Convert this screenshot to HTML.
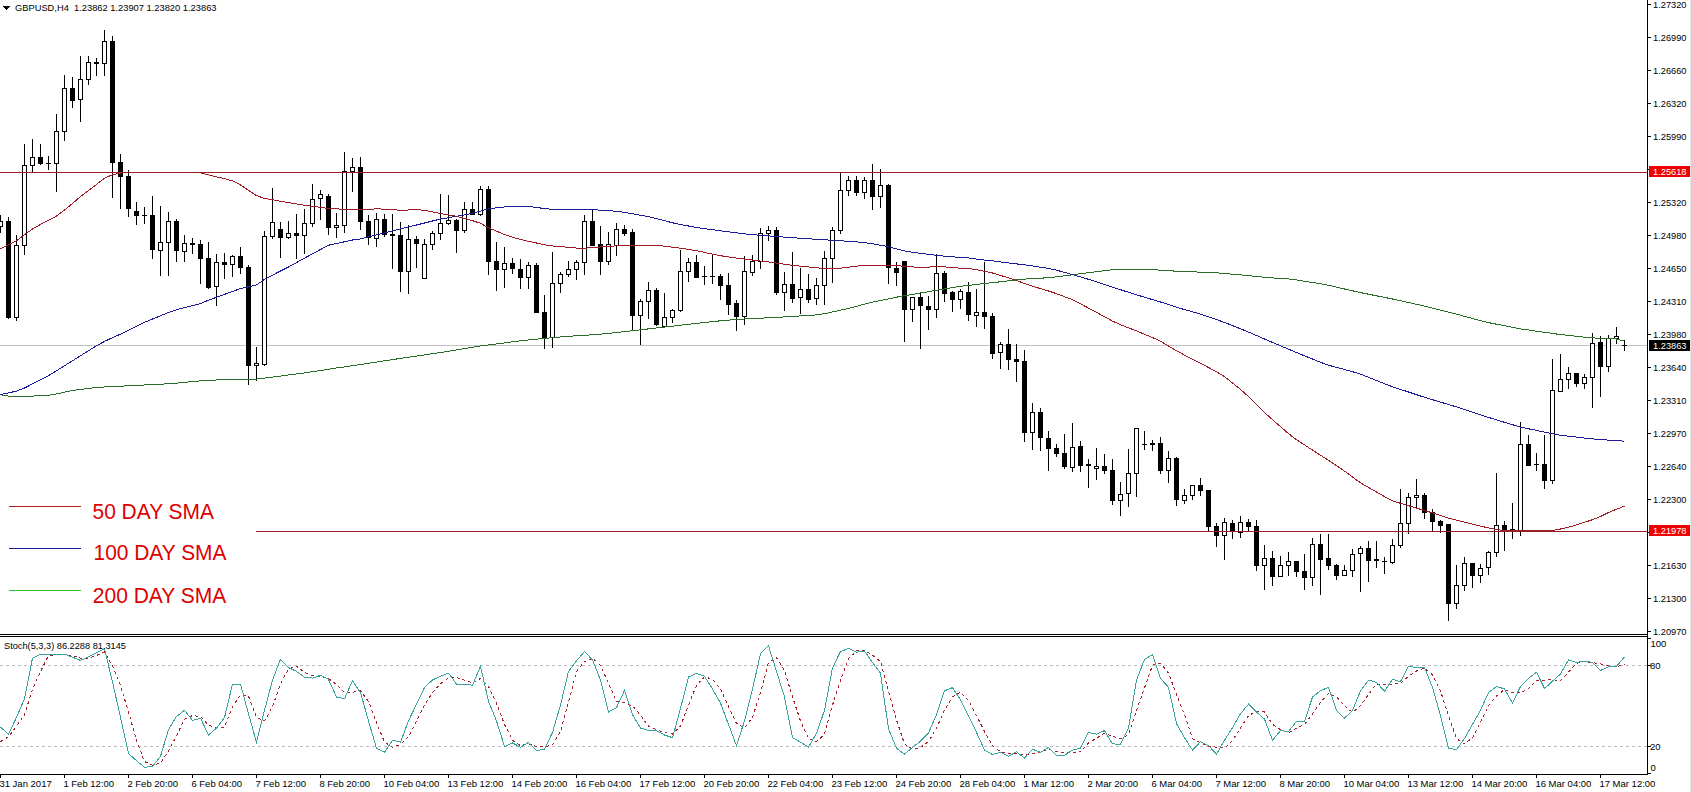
<!DOCTYPE html>
<html><head><meta charset="utf-8"><title>GBPUSD,H4</title>
<style>html,body{margin:0;padding:0;background:#fff;}body{width:1691px;height:792px;overflow:hidden;}svg{display:block;}text{shape-rendering:auto;}</style>
</head><body><svg width="1691" height="792" viewBox="0 0 1691 792" shape-rendering="crispEdges"><rect x="0" y="345" width="1647" height="1" fill="#c0c0c0"/><g fill="#000"><rect x="0" y="215" width="1" height="18"/><rect x="-2" y="221" width="5" height="6"/><rect x="-1" y="222" width="3" height="4" fill="#fff"/><rect x="8" y="217" width="1" height="102"/><rect x="6" y="221" width="5" height="97"/><rect x="16" y="235" width="1" height="86"/><rect x="14" y="245" width="5" height="73"/><rect x="15" y="246" width="3" height="71" fill="#fff"/><rect x="24" y="144" width="1" height="111"/><rect x="22" y="165" width="5" height="81"/><rect x="23" y="166" width="3" height="79" fill="#fff"/><rect x="32" y="139" width="1" height="33"/><rect x="30" y="157" width="5" height="9"/><rect x="31" y="158" width="3" height="7" fill="#fff"/><rect x="40" y="144" width="1" height="21"/><rect x="38" y="157" width="5" height="7"/><rect x="48" y="156" width="1" height="14"/><rect x="46" y="163" width="5" height="1"/><rect x="56" y="114" width="1" height="78"/><rect x="54" y="131" width="5" height="33"/><rect x="55" y="132" width="3" height="31" fill="#fff"/><rect x="64" y="75" width="1" height="66"/><rect x="62" y="88" width="5" height="44"/><rect x="63" y="89" width="3" height="42" fill="#fff"/><rect x="72" y="77" width="1" height="31"/><rect x="70" y="88" width="5" height="13"/><rect x="80" y="56" width="1" height="66"/><rect x="78" y="79" width="5" height="21"/><rect x="79" y="80" width="3" height="19" fill="#fff"/><rect x="88" y="56" width="1" height="29"/><rect x="86" y="62" width="5" height="18"/><rect x="87" y="63" width="3" height="16" fill="#fff"/><rect x="96" y="58" width="1" height="18"/><rect x="94" y="62" width="5" height="2"/><rect x="104" y="30" width="1" height="46"/><rect x="102" y="41" width="5" height="23"/><rect x="103" y="42" width="3" height="21" fill="#fff"/><rect x="112" y="36" width="1" height="162"/><rect x="110" y="41" width="5" height="122"/><rect x="120" y="154" width="1" height="55"/><rect x="118" y="162" width="5" height="15"/><rect x="128" y="170" width="1" height="47"/><rect x="126" y="176" width="5" height="33"/><rect x="136" y="202" width="1" height="23"/><rect x="134" y="211" width="5" height="5"/><rect x="144" y="207" width="1" height="17"/><rect x="142" y="215" width="5" height="1"/><rect x="152" y="196" width="1" height="63"/><rect x="150" y="215" width="5" height="35"/><rect x="160" y="206" width="1" height="70"/><rect x="158" y="242" width="5" height="9"/><rect x="159" y="243" width="3" height="7" fill="#fff"/><rect x="168" y="212" width="1" height="64"/><rect x="166" y="221" width="5" height="22"/><rect x="167" y="222" width="3" height="20" fill="#fff"/><rect x="176" y="219" width="1" height="43"/><rect x="174" y="221" width="5" height="30"/><rect x="184" y="235" width="1" height="27"/><rect x="182" y="243" width="5" height="9"/><rect x="183" y="244" width="3" height="7" fill="#fff"/><rect x="192" y="238" width="1" height="16"/><rect x="190" y="243" width="5" height="2"/><rect x="200" y="240" width="1" height="44"/><rect x="198" y="244" width="5" height="15"/><rect x="208" y="242" width="1" height="47"/><rect x="206" y="258" width="5" height="30"/><rect x="216" y="254" width="1" height="52"/><rect x="214" y="262" width="5" height="25"/><rect x="215" y="263" width="3" height="23" fill="#fff"/><rect x="224" y="253" width="1" height="26"/><rect x="222" y="262" width="5" height="3"/><rect x="232" y="255" width="1" height="22"/><rect x="230" y="256" width="5" height="9"/><rect x="231" y="257" width="3" height="7" fill="#fff"/><rect x="240" y="247" width="1" height="27"/><rect x="238" y="256" width="5" height="12"/><rect x="248" y="265" width="1" height="120"/><rect x="246" y="267" width="5" height="99"/><rect x="256" y="347" width="1" height="34"/><rect x="254" y="363" width="5" height="3"/><rect x="255" y="364" width="3" height="1" fill="#fff"/><rect x="264" y="231" width="1" height="135"/><rect x="262" y="236" width="5" height="129"/><rect x="263" y="237" width="3" height="127" fill="#fff"/><rect x="272" y="188" width="1" height="51"/><rect x="270" y="222" width="5" height="15"/><rect x="271" y="223" width="3" height="13" fill="#fff"/><rect x="280" y="222" width="1" height="36"/><rect x="278" y="229" width="5" height="9"/><rect x="288" y="221" width="1" height="18"/><rect x="286" y="233" width="5" height="5"/><rect x="287" y="234" width="3" height="3" fill="#fff"/><rect x="296" y="214" width="1" height="45"/><rect x="294" y="233" width="5" height="3"/><rect x="304" y="209" width="1" height="45"/><rect x="302" y="223" width="5" height="13"/><rect x="303" y="224" width="3" height="11" fill="#fff"/><rect x="312" y="184" width="1" height="43"/><rect x="310" y="199" width="5" height="25"/><rect x="311" y="200" width="3" height="23" fill="#fff"/><rect x="320" y="190" width="1" height="30"/><rect x="318" y="194" width="5" height="5"/><rect x="319" y="195" width="3" height="3" fill="#fff"/><rect x="328" y="194" width="1" height="41"/><rect x="326" y="196" width="5" height="32"/><rect x="336" y="213" width="1" height="25"/><rect x="334" y="225" width="5" height="3"/><rect x="335" y="226" width="3" height="1" fill="#fff"/><rect x="344" y="152" width="1" height="81"/><rect x="342" y="171" width="5" height="55"/><rect x="343" y="172" width="3" height="53" fill="#fff"/><rect x="352" y="158" width="1" height="34"/><rect x="350" y="167" width="5" height="5"/><rect x="351" y="168" width="3" height="3" fill="#fff"/><rect x="360" y="157" width="1" height="73"/><rect x="358" y="167" width="5" height="55"/><rect x="368" y="215" width="1" height="30"/><rect x="366" y="221" width="5" height="17"/><rect x="376" y="213" width="1" height="34"/><rect x="374" y="219" width="5" height="20"/><rect x="375" y="220" width="3" height="18" fill="#fff"/><rect x="384" y="214" width="1" height="23"/><rect x="382" y="219" width="5" height="16"/><rect x="392" y="214" width="1" height="55"/><rect x="390" y="234" width="5" height="2"/><rect x="400" y="222" width="1" height="70"/><rect x="398" y="235" width="5" height="37"/><rect x="408" y="225" width="1" height="69"/><rect x="406" y="239" width="5" height="33"/><rect x="407" y="240" width="3" height="31" fill="#fff"/><rect x="416" y="236" width="1" height="32"/><rect x="414" y="239" width="5" height="5"/><rect x="424" y="239" width="1" height="40"/><rect x="422" y="244" width="5" height="35"/><rect x="423" y="245" width="3" height="33" fill="#fff"/><rect x="432" y="231" width="1" height="19"/><rect x="430" y="233" width="5" height="12"/><rect x="431" y="234" width="3" height="10" fill="#fff"/><rect x="440" y="194" width="1" height="46"/><rect x="438" y="223" width="5" height="11"/><rect x="439" y="224" width="3" height="9" fill="#fff"/><rect x="448" y="195" width="1" height="30"/><rect x="446" y="220" width="5" height="4"/><rect x="447" y="221" width="3" height="2" fill="#fff"/><rect x="456" y="219" width="1" height="34"/><rect x="454" y="220" width="5" height="11"/><rect x="464" y="202" width="1" height="31"/><rect x="462" y="209" width="5" height="22"/><rect x="463" y="210" width="3" height="20" fill="#fff"/><rect x="472" y="202" width="1" height="13"/><rect x="470" y="209" width="5" height="6"/><rect x="480" y="186" width="1" height="30"/><rect x="478" y="189" width="5" height="26"/><rect x="479" y="190" width="3" height="24" fill="#fff"/><rect x="488" y="186" width="1" height="89"/><rect x="486" y="189" width="5" height="73"/><rect x="496" y="242" width="1" height="49"/><rect x="494" y="261" width="5" height="9"/><rect x="504" y="247" width="1" height="41"/><rect x="502" y="263" width="5" height="7"/><rect x="503" y="264" width="3" height="5" fill="#fff"/><rect x="512" y="258" width="1" height="16"/><rect x="510" y="263" width="5" height="6"/><rect x="520" y="259" width="1" height="30"/><rect x="518" y="269" width="5" height="9"/><rect x="528" y="262" width="1" height="27"/><rect x="526" y="265" width="5" height="13"/><rect x="527" y="266" width="3" height="11" fill="#fff"/><rect x="536" y="263" width="1" height="50"/><rect x="534" y="265" width="5" height="48"/><rect x="544" y="295" width="1" height="54"/><rect x="542" y="312" width="5" height="26"/><rect x="552" y="252" width="1" height="96"/><rect x="550" y="283" width="5" height="55"/><rect x="551" y="284" width="3" height="53" fill="#fff"/><rect x="560" y="272" width="1" height="21"/><rect x="558" y="274" width="5" height="10"/><rect x="559" y="275" width="3" height="8" fill="#fff"/><rect x="568" y="261" width="1" height="16"/><rect x="566" y="269" width="5" height="6"/><rect x="567" y="270" width="3" height="4" fill="#fff"/><rect x="576" y="260" width="1" height="20"/><rect x="574" y="262" width="5" height="8"/><rect x="575" y="263" width="3" height="6" fill="#fff"/><rect x="584" y="215" width="1" height="60"/><rect x="582" y="221" width="5" height="42"/><rect x="583" y="222" width="3" height="40" fill="#fff"/><rect x="592" y="210" width="1" height="36"/><rect x="590" y="221" width="5" height="25"/><rect x="600" y="226" width="1" height="49"/><rect x="598" y="244" width="5" height="18"/><rect x="608" y="232" width="1" height="33"/><rect x="606" y="244" width="5" height="18"/><rect x="607" y="245" width="3" height="16" fill="#fff"/><rect x="616" y="223" width="1" height="33"/><rect x="614" y="229" width="5" height="17"/><rect x="615" y="230" width="3" height="15" fill="#fff"/><rect x="624" y="225" width="1" height="11"/><rect x="622" y="229" width="5" height="5"/><rect x="632" y="229" width="1" height="102"/><rect x="630" y="232" width="5" height="84"/><rect x="640" y="299" width="1" height="46"/><rect x="638" y="301" width="5" height="15"/><rect x="639" y="302" width="3" height="13" fill="#fff"/><rect x="648" y="282" width="1" height="37"/><rect x="646" y="290" width="5" height="12"/><rect x="647" y="291" width="3" height="10" fill="#fff"/><rect x="656" y="288" width="1" height="38"/><rect x="654" y="290" width="5" height="35"/><rect x="664" y="293" width="1" height="34"/><rect x="662" y="317" width="5" height="10"/><rect x="663" y="318" width="3" height="8" fill="#fff"/><rect x="672" y="309" width="1" height="14"/><rect x="670" y="310" width="5" height="8"/><rect x="671" y="311" width="3" height="6" fill="#fff"/><rect x="680" y="250" width="1" height="62"/><rect x="678" y="271" width="5" height="40"/><rect x="679" y="272" width="3" height="38" fill="#fff"/><rect x="688" y="258" width="1" height="24"/><rect x="686" y="262" width="5" height="10"/><rect x="687" y="263" width="3" height="8" fill="#fff"/><rect x="696" y="255" width="1" height="23"/><rect x="694" y="262" width="5" height="16"/><rect x="704" y="266" width="1" height="19"/><rect x="702" y="276" width="5" height="1"/><rect x="712" y="254" width="1" height="30"/><rect x="710" y="276" width="5" height="1"/><rect x="720" y="274" width="1" height="26"/><rect x="718" y="276" width="5" height="10"/><rect x="728" y="273" width="1" height="42"/><rect x="726" y="285" width="5" height="20"/><rect x="736" y="300" width="1" height="31"/><rect x="734" y="303" width="5" height="14"/><rect x="744" y="256" width="1" height="69"/><rect x="742" y="271" width="5" height="46"/><rect x="743" y="272" width="3" height="44" fill="#fff"/><rect x="752" y="255" width="1" height="21"/><rect x="750" y="261" width="5" height="12"/><rect x="751" y="262" width="3" height="10" fill="#fff"/><rect x="760" y="228" width="1" height="41"/><rect x="758" y="233" width="5" height="29"/><rect x="759" y="234" width="3" height="27" fill="#fff"/><rect x="768" y="226" width="1" height="15"/><rect x="766" y="230" width="5" height="4"/><rect x="767" y="231" width="3" height="2" fill="#fff"/><rect x="776" y="227" width="1" height="68"/><rect x="774" y="230" width="5" height="63"/><rect x="784" y="272" width="1" height="39"/><rect x="782" y="284" width="5" height="9"/><rect x="783" y="285" width="3" height="7" fill="#fff"/><rect x="792" y="252" width="1" height="51"/><rect x="790" y="284" width="5" height="15"/><rect x="800" y="268" width="1" height="46"/><rect x="798" y="289" width="5" height="9"/><rect x="799" y="290" width="3" height="7" fill="#fff"/><rect x="808" y="274" width="1" height="29"/><rect x="806" y="289" width="5" height="11"/><rect x="816" y="278" width="1" height="27"/><rect x="814" y="285" width="5" height="14"/><rect x="815" y="286" width="3" height="12" fill="#fff"/><rect x="824" y="251" width="1" height="54"/><rect x="822" y="258" width="5" height="28"/><rect x="823" y="259" width="3" height="26" fill="#fff"/><rect x="832" y="227" width="1" height="56"/><rect x="830" y="230" width="5" height="29"/><rect x="831" y="231" width="3" height="27" fill="#fff"/><rect x="840" y="173" width="1" height="61"/><rect x="838" y="190" width="5" height="41"/><rect x="839" y="191" width="3" height="39" fill="#fff"/><rect x="848" y="176" width="1" height="20"/><rect x="846" y="180" width="5" height="11"/><rect x="847" y="181" width="3" height="9" fill="#fff"/><rect x="856" y="176" width="1" height="20"/><rect x="854" y="180" width="5" height="13"/><rect x="864" y="177" width="1" height="22"/><rect x="862" y="180" width="5" height="13"/><rect x="863" y="181" width="3" height="11" fill="#fff"/><rect x="872" y="164" width="1" height="46"/><rect x="870" y="180" width="5" height="17"/><rect x="880" y="169" width="1" height="39"/><rect x="878" y="185" width="5" height="12"/><rect x="879" y="186" width="3" height="10" fill="#fff"/><rect x="888" y="184" width="1" height="100"/><rect x="886" y="185" width="5" height="83"/><rect x="896" y="262" width="1" height="24"/><rect x="894" y="268" width="5" height="5"/><rect x="904" y="261" width="1" height="81"/><rect x="902" y="261" width="5" height="49"/><rect x="912" y="297" width="1" height="25"/><rect x="910" y="297" width="5" height="13"/><rect x="911" y="298" width="3" height="11" fill="#fff"/><rect x="920" y="293" width="1" height="56"/><rect x="918" y="297" width="5" height="9"/><rect x="928" y="296" width="1" height="34"/><rect x="926" y="306" width="5" height="4"/><rect x="936" y="254" width="1" height="64"/><rect x="934" y="273" width="5" height="37"/><rect x="935" y="274" width="3" height="35" fill="#fff"/><rect x="944" y="271" width="1" height="31"/><rect x="942" y="273" width="5" height="21"/><rect x="952" y="291" width="1" height="21"/><rect x="950" y="292" width="5" height="8"/><rect x="960" y="289" width="1" height="20"/><rect x="958" y="291" width="5" height="9"/><rect x="959" y="292" width="3" height="7" fill="#fff"/><rect x="968" y="282" width="1" height="39"/><rect x="966" y="292" width="5" height="23"/><rect x="976" y="289" width="1" height="38"/><rect x="974" y="312" width="5" height="4"/><rect x="975" y="313" width="3" height="2" fill="#fff"/><rect x="984" y="262" width="1" height="67"/><rect x="982" y="312" width="5" height="5"/><rect x="992" y="313" width="1" height="46"/><rect x="990" y="316" width="5" height="38"/><rect x="1000" y="342" width="1" height="27"/><rect x="998" y="344" width="5" height="9"/><rect x="999" y="345" width="3" height="7" fill="#fff"/><rect x="1008" y="329" width="1" height="41"/><rect x="1006" y="344" width="5" height="16"/><rect x="1016" y="344" width="1" height="38"/><rect x="1014" y="359" width="5" height="3"/><rect x="1024" y="350" width="1" height="92"/><rect x="1022" y="361" width="5" height="72"/><rect x="1032" y="403" width="1" height="47"/><rect x="1030" y="412" width="5" height="21"/><rect x="1031" y="413" width="3" height="19" fill="#fff"/><rect x="1040" y="408" width="1" height="43"/><rect x="1038" y="412" width="5" height="26"/><rect x="1048" y="431" width="1" height="40"/><rect x="1046" y="438" width="5" height="11"/><rect x="1056" y="444" width="1" height="13"/><rect x="1054" y="448" width="5" height="6"/><rect x="1064" y="434" width="1" height="35"/><rect x="1062" y="453" width="5" height="14"/><rect x="1072" y="423" width="1" height="49"/><rect x="1070" y="447" width="5" height="21"/><rect x="1071" y="448" width="3" height="19" fill="#fff"/><rect x="1080" y="441" width="1" height="31"/><rect x="1078" y="446" width="5" height="20"/><rect x="1088" y="459" width="1" height="29"/><rect x="1086" y="464" width="5" height="2"/><rect x="1096" y="448" width="1" height="32"/><rect x="1094" y="466" width="5" height="3"/><rect x="1095" y="467" width="3" height="1" fill="#fff"/><rect x="1104" y="454" width="1" height="20"/><rect x="1102" y="466" width="5" height="5"/><rect x="1112" y="459" width="1" height="46"/><rect x="1110" y="470" width="5" height="31"/><rect x="1120" y="482" width="1" height="34"/><rect x="1118" y="494" width="5" height="7"/><rect x="1119" y="495" width="3" height="5" fill="#fff"/><rect x="1128" y="449" width="1" height="58"/><rect x="1126" y="473" width="5" height="21"/><rect x="1127" y="474" width="3" height="19" fill="#fff"/><rect x="1136" y="428" width="1" height="69"/><rect x="1134" y="428" width="5" height="46"/><rect x="1135" y="429" width="3" height="44" fill="#fff"/><rect x="1144" y="431" width="1" height="19"/><rect x="1142" y="444" width="5" height="1"/><rect x="1152" y="440" width="1" height="11"/><rect x="1150" y="443" width="5" height="2"/><rect x="1160" y="437" width="1" height="37"/><rect x="1158" y="443" width="5" height="28"/><rect x="1168" y="451" width="1" height="32"/><rect x="1166" y="458" width="5" height="13"/><rect x="1167" y="459" width="3" height="11" fill="#fff"/><rect x="1176" y="457" width="1" height="49"/><rect x="1174" y="458" width="5" height="42"/><rect x="1184" y="489" width="1" height="15"/><rect x="1182" y="495" width="5" height="6"/><rect x="1183" y="496" width="3" height="4" fill="#fff"/><rect x="1192" y="485" width="1" height="15"/><rect x="1190" y="485" width="5" height="11"/><rect x="1191" y="486" width="3" height="9" fill="#fff"/><rect x="1200" y="478" width="1" height="18"/><rect x="1198" y="485" width="5" height="6"/><rect x="1208" y="490" width="1" height="41"/><rect x="1206" y="490" width="5" height="37"/><rect x="1216" y="523" width="1" height="24"/><rect x="1214" y="526" width="5" height="10"/><rect x="1224" y="518" width="1" height="42"/><rect x="1222" y="522" width="5" height="14"/><rect x="1223" y="523" width="3" height="12" fill="#fff"/><rect x="1232" y="520" width="1" height="19"/><rect x="1230" y="523" width="5" height="8"/><rect x="1240" y="516" width="1" height="22"/><rect x="1238" y="522" width="5" height="11"/><rect x="1239" y="523" width="3" height="9" fill="#fff"/><rect x="1248" y="519" width="1" height="12"/><rect x="1246" y="522" width="5" height="5"/><rect x="1256" y="520" width="1" height="51"/><rect x="1254" y="526" width="5" height="40"/><rect x="1264" y="545" width="1" height="45"/><rect x="1262" y="558" width="5" height="8"/><rect x="1263" y="559" width="3" height="6" fill="#fff"/><rect x="1272" y="551" width="1" height="35"/><rect x="1270" y="558" width="5" height="19"/><rect x="1280" y="556" width="1" height="21"/><rect x="1278" y="565" width="5" height="12"/><rect x="1279" y="566" width="3" height="10" fill="#fff"/><rect x="1288" y="552" width="1" height="24"/><rect x="1286" y="561" width="5" height="5"/><rect x="1287" y="562" width="3" height="3" fill="#fff"/><rect x="1296" y="561" width="1" height="16"/><rect x="1294" y="561" width="5" height="11"/><rect x="1304" y="554" width="1" height="36"/><rect x="1302" y="571" width="5" height="7"/><rect x="1312" y="538" width="1" height="48"/><rect x="1310" y="544" width="5" height="34"/><rect x="1311" y="545" width="3" height="32" fill="#fff"/><rect x="1320" y="534" width="1" height="61"/><rect x="1318" y="544" width="5" height="16"/><rect x="1328" y="534" width="1" height="36"/><rect x="1326" y="558" width="5" height="8"/><rect x="1336" y="564" width="1" height="16"/><rect x="1334" y="565" width="5" height="11"/><rect x="1344" y="565" width="1" height="11"/><rect x="1342" y="570" width="5" height="6"/><rect x="1343" y="571" width="3" height="4" fill="#fff"/><rect x="1352" y="549" width="1" height="28"/><rect x="1350" y="554" width="5" height="17"/><rect x="1351" y="555" width="3" height="15" fill="#fff"/><rect x="1360" y="546" width="1" height="46"/><rect x="1358" y="548" width="5" height="6"/><rect x="1359" y="549" width="3" height="4" fill="#fff"/><rect x="1368" y="541" width="1" height="41"/><rect x="1366" y="548" width="5" height="13"/><rect x="1376" y="541" width="1" height="27"/><rect x="1374" y="559" width="5" height="2"/><rect x="1384" y="557" width="1" height="17"/><rect x="1382" y="561" width="5" height="1"/><rect x="1392" y="539" width="1" height="25"/><rect x="1390" y="545" width="5" height="18"/><rect x="1391" y="546" width="3" height="16" fill="#fff"/><rect x="1400" y="489" width="1" height="59"/><rect x="1398" y="523" width="5" height="23"/><rect x="1399" y="524" width="3" height="21" fill="#fff"/><rect x="1408" y="493" width="1" height="41"/><rect x="1406" y="497" width="5" height="27"/><rect x="1407" y="498" width="3" height="25" fill="#fff"/><rect x="1416" y="479" width="1" height="29"/><rect x="1414" y="495" width="5" height="3"/><rect x="1415" y="496" width="3" height="1" fill="#fff"/><rect x="1424" y="493" width="1" height="26"/><rect x="1422" y="495" width="5" height="18"/><rect x="1432" y="509" width="1" height="22"/><rect x="1430" y="512" width="5" height="10"/><rect x="1440" y="520" width="1" height="13"/><rect x="1438" y="521" width="5" height="5"/><rect x="1448" y="524" width="1" height="97"/><rect x="1446" y="524" width="5" height="80"/><rect x="1456" y="565" width="1" height="44"/><rect x="1454" y="585" width="5" height="19"/><rect x="1455" y="586" width="3" height="17" fill="#fff"/><rect x="1464" y="557" width="1" height="34"/><rect x="1462" y="563" width="5" height="23"/><rect x="1463" y="564" width="3" height="21" fill="#fff"/><rect x="1472" y="563" width="1" height="25"/><rect x="1470" y="563" width="5" height="13"/><rect x="1480" y="564" width="1" height="19"/><rect x="1478" y="568" width="5" height="8"/><rect x="1479" y="569" width="3" height="6" fill="#fff"/><rect x="1488" y="551" width="1" height="24"/><rect x="1486" y="552" width="5" height="16"/><rect x="1487" y="553" width="3" height="14" fill="#fff"/><rect x="1496" y="473" width="1" height="84"/><rect x="1494" y="525" width="5" height="28"/><rect x="1495" y="526" width="3" height="26" fill="#fff"/><rect x="1504" y="521" width="1" height="30"/><rect x="1502" y="525" width="5" height="5"/><rect x="1512" y="503" width="1" height="36"/><rect x="1510" y="529" width="5" height="3"/><rect x="1520" y="422" width="1" height="114"/><rect x="1518" y="444" width="5" height="87"/><rect x="1519" y="445" width="3" height="85" fill="#fff"/><rect x="1528" y="435" width="1" height="31"/><rect x="1526" y="444" width="5" height="22"/><rect x="1536" y="453" width="1" height="18"/><rect x="1534" y="464" width="5" height="1"/><rect x="1544" y="435" width="1" height="54"/><rect x="1542" y="464" width="5" height="17"/><rect x="1552" y="359" width="1" height="125"/><rect x="1550" y="390" width="5" height="91"/><rect x="1551" y="391" width="3" height="89" fill="#fff"/><rect x="1560" y="354" width="1" height="38"/><rect x="1558" y="379" width="5" height="13"/><rect x="1559" y="380" width="3" height="11" fill="#fff"/><rect x="1568" y="367" width="1" height="22"/><rect x="1566" y="373" width="5" height="7"/><rect x="1567" y="374" width="3" height="5" fill="#fff"/><rect x="1576" y="373" width="1" height="14"/><rect x="1574" y="373" width="5" height="11"/><rect x="1584" y="374" width="1" height="15"/><rect x="1582" y="377" width="5" height="7"/><rect x="1583" y="378" width="3" height="5" fill="#fff"/><rect x="1592" y="333" width="1" height="75"/><rect x="1590" y="343" width="5" height="35"/><rect x="1591" y="344" width="3" height="33" fill="#fff"/><rect x="1600" y="336" width="1" height="61"/><rect x="1598" y="342" width="5" height="25"/><rect x="1608" y="335" width="1" height="37"/><rect x="1606" y="338" width="5" height="29"/><rect x="1607" y="339" width="3" height="27" fill="#fff"/><rect x="1616" y="327" width="1" height="17"/><rect x="1614" y="336" width="5" height="3"/><rect x="1615" y="337" width="3" height="1" fill="#fff"/><rect x="1624" y="340" width="1" height="11"/><rect x="1622" y="345" width="5" height="1"/></g><rect x="0" y="172" width="1647" height="1" fill="#9a1f24"/><rect x="256" y="531" width="1391" height="1" fill="#9a1f24"/><polyline points="0.5,394.7 8.5,396.1 16.5,396.1 24.5,396.1 32.5,396.1 40.5,395.7 48.5,395.2 56.5,394.0 64.5,392.1 72.5,390.5 80.5,389.5 88.5,388.5 96.5,387.5 104.5,387.0 112.5,386.6 120.5,386.2 128.5,385.8 136.5,385.4 144.5,385.0 152.5,384.6 160.5,384.2 168.5,383.8 176.5,383.1 184.5,382.4 192.5,381.6 200.5,380.9 208.5,380.4 216.5,380.0 224.5,379.5 232.5,379.2 240.5,379.2 248.5,379.2 256.5,379.1 264.5,378.1 272.5,377.1 280.5,376.1 288.5,375.0 296.5,374.0 304.5,372.9 312.5,371.7 320.5,370.5 328.5,369.2 336.5,368.0 344.5,366.9 352.5,365.7 360.5,364.5 368.5,363.3 376.5,362.1 384.5,360.8 392.5,359.6 400.5,358.4 408.5,357.2 416.5,356.1 424.5,354.9 432.5,353.7 440.5,352.5 448.5,351.3 456.5,350.0 464.5,348.6 472.5,347.3 480.5,346.0 488.5,345.0 496.5,343.9 504.5,342.9 512.5,341.8 520.5,340.8 528.5,340.0 536.5,339.2 544.5,338.4 552.5,337.7 560.5,337.0 568.5,336.3 576.5,335.8 584.5,335.3 592.5,334.8 600.5,334.2 608.5,333.4 616.5,332.5 624.5,331.6 632.5,330.7 640.5,329.8 648.5,328.9 656.5,328.0 664.5,327.1 672.5,326.2 680.5,325.2 688.5,324.3 696.5,323.4 704.5,322.5 712.5,321.6 720.5,320.8 728.5,320.1 736.5,319.5 744.5,319.0 752.5,318.6 760.5,318.2 768.5,317.8 776.5,317.4 784.5,316.9 792.5,316.4 800.5,315.9 808.5,315.4 816.5,314.9 824.5,313.7 832.5,311.9 840.5,310.2 848.5,308.4 856.5,306.3 864.5,304.2 872.5,302.2 880.5,300.5 888.5,298.9 896.5,297.2 904.5,295.7 912.5,294.4 920.5,293.0 928.5,291.7 936.5,290.3 944.5,289.0 952.5,287.6 960.5,286.3 968.5,285.4 976.5,284.5 984.5,283.5 992.5,282.6 1000.5,281.8 1008.5,280.8 1016.5,279.8 1024.5,279.1 1032.5,278.6 1040.5,278.2 1048.5,277.7 1056.5,276.8 1064.5,275.8 1072.5,274.8 1080.5,273.7 1088.5,272.7 1096.5,271.6 1104.5,270.7 1112.5,269.7 1120.5,269.3 1128.5,269.3 1136.5,269.3 1144.5,269.3 1152.5,269.6 1160.5,270.2 1168.5,270.7 1176.5,271.2 1184.5,271.6 1192.5,271.9 1200.5,272.1 1208.5,272.4 1216.5,272.8 1224.5,273.5 1232.5,274.2 1240.5,274.9 1248.5,275.7 1256.5,276.5 1264.5,277.3 1272.5,277.9 1280.5,278.5 1288.5,279.0 1296.5,279.9 1304.5,281.2 1312.5,282.5 1320.5,283.8 1328.5,285.2 1336.5,287.1 1344.5,289.0 1352.5,290.8 1360.5,292.6 1368.5,294.2 1376.5,295.8 1384.5,297.4 1392.5,299.0 1400.5,300.7 1408.5,302.5 1416.5,304.3 1424.5,306.1 1432.5,308.1 1440.5,310.1 1448.5,312.1 1456.5,314.1 1464.5,316.3 1472.5,318.5 1480.5,320.7 1488.5,322.6 1496.5,324.2 1504.5,325.7 1512.5,327.3 1520.5,328.9 1528.5,330.0 1536.5,331.2 1544.5,332.3 1552.5,333.4 1560.5,334.6 1568.5,335.4 1576.5,336.3 1584.5,337.2 1592.5,337.9 1600.5,338.2 1608.5,338.5 1616.5,339.0 1624.5,341.2" fill="none" stroke="#2a6e2a" stroke-width="1" /><polyline points="0.5,394.5 8.5,392.9 16.5,391.1 24.5,388.0 32.5,383.9 40.5,379.8 48.5,375.7 56.5,370.8 64.5,365.8 72.5,360.8 80.5,355.8 88.5,350.8 96.5,345.8 104.5,341.4 112.5,337.6 120.5,334.1 128.5,330.3 136.5,326.3 144.5,322.3 152.5,319.0 160.5,315.8 168.5,312.4 176.5,309.7 184.5,307.7 192.5,305.7 200.5,303.5 208.5,300.2 216.5,297.3 224.5,294.4 232.5,291.4 240.5,288.6 248.5,286.8 256.5,285.0 264.5,279.4 272.5,275.1 280.5,271.0 288.5,267.0 296.5,262.6 304.5,258.1 312.5,253.8 320.5,249.5 328.5,245.2 336.5,243.6 344.5,241.8 352.5,240.0 360.5,238.9 368.5,236.9 376.5,234.9 384.5,232.9 392.5,230.8 400.5,228.8 408.5,226.9 416.5,225.0 424.5,223.0 432.5,221.0 440.5,219.0 448.5,217.7 456.5,216.3 464.5,214.9 472.5,213.3 480.5,211.1 488.5,208.8 496.5,207.8 504.5,207.0 512.5,206.4 520.5,206.4 528.5,206.4 536.5,207.4 544.5,208.6 552.5,209.4 560.5,209.3 568.5,209.3 576.5,209.3 584.5,209.3 592.5,209.6 600.5,210.2 608.5,210.7 616.5,211.3 624.5,212.3 632.5,213.8 640.5,215.2 648.5,216.6 656.5,218.6 664.5,220.7 672.5,222.8 680.5,224.5 688.5,226.0 696.5,227.5 704.5,228.7 712.5,229.7 720.5,230.8 728.5,231.8 736.5,232.8 744.5,233.8 752.5,234.7 760.5,235.3 768.5,235.9 776.5,236.5 784.5,237.1 792.5,237.7 800.5,238.3 808.5,238.8 816.5,239.3 824.5,239.8 832.5,240.3 840.5,240.8 848.5,241.3 856.5,241.9 864.5,242.7 872.5,243.7 880.5,245.2 888.5,246.7 896.5,248.9 904.5,250.9 912.5,252.3 920.5,253.3 928.5,254.3 936.5,255.4 944.5,256.1 952.5,256.8 960.5,257.4 968.5,258.0 976.5,259.1 984.5,260.1 992.5,260.8 1000.5,261.9 1008.5,262.9 1016.5,263.9 1024.5,264.8 1032.5,265.9 1040.5,267.2 1048.5,268.4 1056.5,270.2 1064.5,272.4 1072.5,274.6 1080.5,276.9 1088.5,279.3 1096.5,281.8 1104.5,284.4 1112.5,287.1 1120.5,289.7 1128.5,292.3 1136.5,294.8 1144.5,297.2 1152.5,299.6 1160.5,302.0 1168.5,304.6 1176.5,307.2 1184.5,309.6 1192.5,311.8 1200.5,314.1 1208.5,316.8 1216.5,319.6 1224.5,322.4 1232.5,325.6 1240.5,328.8 1248.5,332.1 1256.5,335.5 1264.5,339.0 1272.5,342.4 1280.5,345.8 1288.5,349.2 1296.5,352.5 1304.5,355.8 1312.5,359.0 1320.5,362.3 1328.5,365.2 1336.5,367.3 1344.5,369.5 1352.5,371.7 1360.5,374.1 1368.5,377.3 1376.5,380.5 1384.5,383.7 1392.5,386.8 1400.5,389.4 1408.5,392.0 1416.5,394.7 1424.5,397.3 1432.5,399.7 1440.5,402.1 1448.5,404.5 1456.5,406.9 1464.5,409.5 1472.5,412.2 1480.5,414.8 1488.5,417.4 1496.5,419.8 1504.5,422.3 1512.5,424.7 1520.5,427.1 1528.5,428.8 1536.5,430.4 1544.5,432.1 1552.5,433.7 1560.5,435.3 1568.5,436.2 1576.5,437.1 1584.5,438.1 1592.5,438.9 1600.5,439.5 1608.5,440.1 1616.5,440.6 1624.5,441.2" fill="none" stroke="#1c1c96" stroke-width="1" /><polyline points="0.5,248.9 8.5,244.9 16.5,240.7 24.5,234.7 32.5,229.0 40.5,224.4 48.5,220.3 56.5,216.1 64.5,210.1 72.5,203.5 80.5,196.5 88.5,190.5 96.5,184.4 104.5,178.2 112.5,174.7 120.5,173.0 128.5,172.5 136.5,172.2 144.5,172.3 152.5,172.5 160.5,172.4 168.5,172.3 176.5,172.2 184.5,172.4 192.5,172.6 200.5,172.9 208.5,174.9 216.5,176.9 224.5,178.6 232.5,180.9 240.5,184.9 248.5,190.4 256.5,195.6 264.5,198.4 272.5,199.8 280.5,201.2 288.5,202.6 296.5,204.0 304.5,205.2 312.5,206.3 320.5,207.4 328.5,208.5 336.5,208.9 344.5,209.2 352.5,209.4 360.5,209.7 368.5,209.3 376.5,208.9 384.5,209.1 392.5,209.7 400.5,210.3 408.5,210.0 416.5,209.6 424.5,210.4 432.5,211.9 440.5,213.5 448.5,214.9 456.5,216.3 464.5,218.3 472.5,220.7 480.5,223.3 488.5,227.8 496.5,231.2 504.5,234.5 512.5,237.3 520.5,239.3 528.5,241.3 536.5,243.0 544.5,244.7 552.5,246.0 560.5,246.6 568.5,247.3 576.5,248.1 584.5,248.2 592.5,247.6 600.5,247.0 608.5,246.4 616.5,245.8 624.5,245.5 632.5,245.5 640.5,245.5 648.5,245.5 656.5,245.5 664.5,246.1 672.5,247.2 680.5,248.2 688.5,249.3 696.5,250.8 704.5,252.4 712.5,254.1 720.5,255.7 728.5,256.9 736.5,258.1 744.5,259.1 752.5,260.1 760.5,261.1 768.5,262.0 776.5,263.1 784.5,264.2 792.5,265.3 800.5,266.2 808.5,267.0 816.5,267.9 824.5,268.3 832.5,268.3 840.5,268.2 848.5,267.2 856.5,266.1 864.5,265.5 872.5,265.4 880.5,265.3 888.5,265.2 896.5,265.7 904.5,266.3 912.5,266.9 920.5,267.5 928.5,267.1 936.5,266.7 944.5,266.9 952.5,267.6 960.5,268.2 968.5,268.5 976.5,269.8 984.5,271.2 992.5,273.0 1000.5,275.4 1008.5,277.8 1016.5,280.6 1024.5,283.4 1032.5,286.2 1040.5,288.6 1048.5,291.0 1056.5,293.7 1064.5,296.7 1072.5,299.6 1080.5,303.8 1088.5,308.1 1096.5,312.4 1104.5,316.7 1112.5,321.1 1120.5,324.8 1128.5,327.8 1136.5,330.9 1144.5,334.2 1152.5,337.6 1160.5,341.2 1168.5,346.0 1176.5,350.7 1184.5,355.1 1192.5,359.2 1200.5,363.2 1208.5,367.5 1216.5,371.9 1224.5,376.6 1232.5,383.0 1240.5,389.4 1248.5,396.6 1256.5,404.5 1264.5,412.5 1272.5,419.7 1280.5,426.6 1288.5,433.6 1296.5,439.7 1304.5,444.9 1312.5,450.1 1320.5,455.2 1328.5,460.4 1336.5,465.7 1344.5,471.1 1352.5,477.1 1360.5,482.8 1368.5,487.4 1376.5,492.0 1384.5,496.6 1392.5,500.9 1400.5,503.3 1408.5,505.7 1416.5,508.1 1424.5,510.5 1432.5,512.9 1440.5,515.5 1448.5,518.1 1456.5,520.2 1464.5,522.2 1472.5,524.2 1480.5,526.1 1488.5,527.9 1496.5,529.6 1504.5,530.5 1512.5,530.7 1520.5,531.0 1528.5,530.9 1536.5,530.9 1544.5,530.8 1552.5,530.4 1560.5,529.0 1568.5,527.2 1576.5,524.9 1584.5,522.3 1592.5,519.7 1600.5,516.5 1608.5,512.5 1616.5,509.2 1624.5,506.2" fill="none" stroke="#a01c24" stroke-width="1" /><rect x="1647" y="0" width="1" height="775" fill="#000"/><rect x="0" y="634" width="1648" height="1" fill="#000"/><rect x="0" y="636" width="1648" height="1" fill="#000"/><rect x="0" y="774" width="1648" height="1" fill="#000"/><rect x="1690" y="0" width="1" height="792" fill="#e4e4e4"/><rect x="1648" y="4" width="3" height="1" fill="#000"/><rect x="1648" y="37" width="3" height="1" fill="#000"/><rect x="1648" y="70" width="3" height="1" fill="#000"/><rect x="1648" y="103" width="3" height="1" fill="#000"/><rect x="1648" y="136" width="3" height="1" fill="#000"/><rect x="1648" y="169" width="3" height="1" fill="#000"/><rect x="1648" y="202" width="3" height="1" fill="#000"/><rect x="1648" y="235" width="3" height="1" fill="#000"/><rect x="1648" y="268" width="3" height="1" fill="#000"/><rect x="1648" y="301" width="3" height="1" fill="#000"/><rect x="1648" y="334" width="3" height="1" fill="#000"/><rect x="1648" y="367" width="3" height="1" fill="#000"/><rect x="1648" y="400" width="3" height="1" fill="#000"/><rect x="1648" y="433" width="3" height="1" fill="#000"/><rect x="1648" y="466" width="3" height="1" fill="#000"/><rect x="1648" y="499" width="3" height="1" fill="#000"/><rect x="1648" y="532" width="3" height="1" fill="#000"/><rect x="1648" y="565" width="3" height="1" fill="#000"/><rect x="1648" y="598" width="3" height="1" fill="#000"/><rect x="1648" y="631" width="3" height="1" fill="#000"/><g font-family="Liberation Sans, sans-serif" font-size="9.5px" fill="#000"><text x="1653" y="8" textLength="33.5" lengthAdjust="spacingAndGlyphs">1.27320</text><text x="1653" y="41" textLength="33.5" lengthAdjust="spacingAndGlyphs">1.26990</text><text x="1653" y="74" textLength="33.5" lengthAdjust="spacingAndGlyphs">1.26660</text><text x="1653" y="107" textLength="33.5" lengthAdjust="spacingAndGlyphs">1.26320</text><text x="1653" y="140" textLength="33.5" lengthAdjust="spacingAndGlyphs">1.25990</text><text x="1653" y="206" textLength="33.5" lengthAdjust="spacingAndGlyphs">1.25320</text><text x="1653" y="239" textLength="33.5" lengthAdjust="spacingAndGlyphs">1.24980</text><text x="1653" y="272" textLength="33.5" lengthAdjust="spacingAndGlyphs">1.24650</text><text x="1653" y="305" textLength="33.5" lengthAdjust="spacingAndGlyphs">1.24310</text><text x="1653" y="338" textLength="33.5" lengthAdjust="spacingAndGlyphs">1.23980</text><text x="1653" y="371" textLength="33.5" lengthAdjust="spacingAndGlyphs">1.23640</text><text x="1653" y="404" textLength="33.5" lengthAdjust="spacingAndGlyphs">1.23310</text><text x="1653" y="437" textLength="33.5" lengthAdjust="spacingAndGlyphs">1.22970</text><text x="1653" y="470" textLength="33.5" lengthAdjust="spacingAndGlyphs">1.22640</text><text x="1653" y="503" textLength="33.5" lengthAdjust="spacingAndGlyphs">1.22300</text><text x="1653" y="569" textLength="33.5" lengthAdjust="spacingAndGlyphs">1.21630</text><text x="1653" y="602" textLength="33.5" lengthAdjust="spacingAndGlyphs">1.21300</text><text x="1653" y="635" textLength="33.5" lengthAdjust="spacingAndGlyphs">1.20970</text></g><rect x="1649" y="166" width="41" height="11" fill="#f00000"/><text x="1653" y="175" font-family="Liberation Sans, sans-serif" font-size="9.5px" fill="#fff" textLength="33.5" lengthAdjust="spacingAndGlyphs">1.25618</text><rect x="1649" y="340" width="41" height="11" fill="#000"/><text x="1653" y="349" font-family="Liberation Sans, sans-serif" font-size="9.5px" fill="#fff" textLength="33.5" lengthAdjust="spacingAndGlyphs">1.23863</text><rect x="1649" y="525" width="41" height="11" fill="#f00000"/><text x="1653" y="534" font-family="Liberation Sans, sans-serif" font-size="9.5px" fill="#fff" textLength="33.5" lengthAdjust="spacingAndGlyphs">1.21978</text><line x1="0" y1="665.5" x2="1647" y2="665.5" stroke="#bdbdbd" stroke-dasharray="3 3"/><line x1="0" y1="746.5" x2="1647" y2="746.5" stroke="#bdbdbd" stroke-dasharray="3 3"/><polyline points="0.5,741.7 8.5,736.8 16.5,726.2 24.5,714.7 32.5,689.0 40.5,671.4 48.5,655.5 56.5,654.6 64.5,654.6 72.5,655.5 80.5,658.1 88.5,658.1 96.5,655.5 104.5,651.9 112.5,666.1 120.5,685.5 128.5,712.0 136.5,740.3 144.5,761.6 152.5,765.1 160.5,763.0 168.5,751.0 176.5,735.9 184.5,719.1 192.5,715.6 200.5,716.5 208.5,725.3 216.5,727.6 224.5,727.1 232.5,706.4 240.5,695.2 248.5,696.1 256.5,717.3 264.5,720.9 272.5,706.7 280.5,683.7 288.5,669.2 296.5,666.1 304.5,672.3 312.5,675.8 320.5,677.0 328.5,678.4 336.5,684.6 344.5,692.6 352.5,692.2 360.5,690.8 368.5,701.4 376.5,722.6 384.5,742.1 392.5,747.1 400.5,744.8 408.5,736.8 416.5,720.9 424.5,705.0 432.5,692.6 440.5,683.7 448.5,678.1 456.5,677.6 464.5,680.2 472.5,682.9 480.5,678.4 488.5,686.4 496.5,703.2 504.5,724.4 512.5,740.3 520.5,745.6 528.5,743.9 536.5,746.5 544.5,747.1 552.5,744.8 560.5,731.5 568.5,702.3 576.5,671.4 584.5,661.6 592.5,658.1 600.5,665.2 608.5,683.4 616.5,701.4 624.5,702.8 632.5,705.8 640.5,715.2 648.5,726.2 656.5,729.7 664.5,732.4 672.5,734.1 680.5,726.2 688.5,705.0 696.5,685.5 704.5,676.7 712.5,679.3 720.5,689.0 728.5,706.7 736.5,723.5 744.5,728.0 752.5,717.3 760.5,692.6 768.5,662.5 776.5,657.6 784.5,670.5 792.5,697.0 800.5,720.9 808.5,738.6 816.5,741.7 824.5,734.1 832.5,705.0 840.5,680.2 848.5,658.6 856.5,651.0 864.5,650.1 872.5,655.1 880.5,661.6 888.5,690.8 896.5,720.0 904.5,743.9 912.5,749.2 920.5,747.4 928.5,741.7 936.5,728.0 944.5,710.3 952.5,697.0 960.5,692.2 968.5,700.5 976.5,715.6 984.5,731.5 992.5,745.6 1000.5,751.8 1008.5,753.6 1016.5,753.6 1024.5,754.5 1032.5,753.6 1040.5,752.7 1048.5,749.2 1056.5,751.8 1064.5,752.7 1072.5,752.7 1080.5,751.8 1088.5,743.0 1096.5,738.2 1104.5,733.3 1112.5,736.4 1120.5,738.6 1128.5,735.0 1136.5,710.3 1144.5,688.0 1152.5,665.2 1160.5,663.4 1168.5,673.1 1176.5,694.4 1184.5,714.7 1192.5,738.6 1200.5,743.0 1208.5,746.5 1216.5,747.1 1224.5,748.3 1232.5,740.3 1240.5,728.0 1248.5,715.6 1256.5,711.2 1264.5,712.0 1272.5,724.4 1280.5,729.7 1288.5,732.9 1296.5,728.0 1304.5,724.4 1312.5,713.8 1320.5,702.3 1328.5,693.5 1336.5,697.0 1344.5,705.8 1352.5,712.4 1360.5,705.8 1368.5,694.4 1376.5,684.1 1384.5,684.1 1392.5,684.1 1400.5,683.4 1408.5,676.3 1416.5,671.0 1424.5,668.2 1432.5,674.9 1440.5,690.8 1448.5,715.6 1456.5,738.6 1464.5,743.9 1472.5,737.7 1480.5,721.8 1488.5,705.8 1496.5,696.1 1504.5,689.4 1512.5,692.6 1520.5,692.9 1528.5,688.7 1536.5,680.2 1544.5,680.2 1552.5,679.8 1560.5,680.5 1568.5,672.2 1576.5,663.4 1584.5,661.6 1592.5,662.5 1600.5,663.9 1608.5,666.0 1616.5,666.9 1624.5,664.3" fill="none" stroke="#a82028" stroke-width="1" stroke-dasharray="3 3"/><polyline points="0.5,727.1 8.5,734.1 16.5,717.3 24.5,698.8 32.5,658.1 40.5,654.2 48.5,654.2 56.5,654.6 64.5,654.2 72.5,657.2 80.5,660.4 88.5,656.9 96.5,652.8 104.5,648.7 112.5,682.0 120.5,717.3 128.5,753.6 136.5,760.7 144.5,767.2 152.5,766.5 160.5,756.2 168.5,729.7 176.5,716.5 184.5,710.3 192.5,720.5 200.5,718.2 208.5,735.0 216.5,728.0 224.5,717.7 232.5,684.1 240.5,684.1 248.5,713.8 256.5,742.5 264.5,710.3 272.5,680.2 280.5,659.3 288.5,667.5 296.5,671.4 304.5,677.2 312.5,678.1 320.5,675.3 328.5,679.3 336.5,697.0 344.5,698.8 352.5,680.6 360.5,692.6 368.5,720.9 376.5,748.3 384.5,752.4 392.5,740.3 400.5,742.1 408.5,720.9 416.5,704.1 424.5,687.6 432.5,679.9 440.5,676.3 448.5,673.1 456.5,684.1 464.5,684.1 472.5,685.2 480.5,666.4 488.5,701.4 496.5,720.9 504.5,746.5 512.5,743.0 520.5,747.1 528.5,742.5 536.5,750.6 544.5,749.2 552.5,732.4 560.5,705.0 568.5,671.4 576.5,660.8 584.5,651.6 592.5,659.9 600.5,680.2 608.5,712.0 616.5,707.6 624.5,690.5 632.5,714.7 640.5,728.0 648.5,730.6 656.5,730.6 664.5,735.0 672.5,737.7 680.5,708.5 688.5,677.0 696.5,673.5 704.5,676.3 712.5,689.0 720.5,703.2 728.5,724.4 736.5,745.6 744.5,720.9 752.5,689.0 760.5,653.7 768.5,645.7 776.5,671.4 784.5,697.0 792.5,737.7 800.5,742.1 808.5,747.1 816.5,733.3 824.5,710.3 832.5,667.8 840.5,651.6 848.5,648.4 856.5,652.3 864.5,651.0 872.5,662.5 880.5,673.1 888.5,728.8 896.5,748.3 904.5,754.1 912.5,747.4 920.5,741.2 928.5,732.9 936.5,714.7 944.5,690.8 952.5,687.6 960.5,699.7 968.5,715.6 976.5,732.4 984.5,750.1 992.5,754.5 1000.5,752.4 1008.5,756.2 1016.5,751.8 1024.5,758.0 1032.5,749.2 1040.5,752.4 1048.5,747.4 1056.5,755.4 1064.5,755.4 1072.5,750.1 1080.5,748.3 1088.5,732.4 1096.5,734.1 1104.5,730.6 1112.5,743.9 1120.5,744.2 1128.5,728.0 1136.5,680.2 1144.5,659.5 1152.5,654.6 1160.5,678.4 1168.5,687.3 1176.5,723.5 1184.5,737.7 1192.5,750.1 1200.5,741.7 1208.5,745.6 1216.5,754.1 1224.5,740.3 1232.5,727.6 1240.5,713.8 1248.5,704.1 1256.5,712.0 1264.5,719.1 1272.5,740.3 1280.5,730.6 1288.5,731.5 1296.5,721.4 1304.5,721.4 1312.5,697.0 1320.5,690.8 1328.5,687.3 1336.5,710.3 1344.5,718.2 1352.5,710.3 1360.5,690.8 1368.5,680.2 1376.5,682.3 1384.5,691.2 1392.5,679.3 1400.5,681.6 1408.5,666.4 1416.5,667.5 1424.5,667.5 1432.5,687.3 1440.5,715.6 1448.5,748.3 1456.5,749.5 1464.5,738.6 1472.5,724.4 1480.5,710.3 1488.5,692.6 1496.5,686.4 1504.5,689.0 1512.5,703.2 1520.5,686.4 1528.5,678.4 1536.5,672.2 1544.5,688.6 1552.5,681.1 1560.5,674.0 1568.5,659.9 1576.5,662.5 1584.5,661.1 1592.5,662.5 1600.5,670.5 1608.5,666.9 1616.5,666.4 1624.5,656.8" fill="none" stroke="#3aa39e" stroke-width="1" /><rect x="1648" y="638" width="3" height="1" fill="#000"/><rect x="1648" y="665" width="3" height="1" fill="#000"/><rect x="1648" y="746" width="3" height="1" fill="#000"/><rect x="1648" y="773" width="3" height="1" fill="#000"/><g font-family="Liberation Sans, sans-serif" font-size="9.5px" fill="#000"><text x="1650.5" y="647">100</text><text x="1650" y="669">80</text><text x="1650" y="750">20</text><text x="1650.5" y="771">0</text></g><rect x="0" y="775" width="1" height="3" fill="#000"/><rect x="64" y="775" width="1" height="3" fill="#000"/><rect x="128" y="775" width="1" height="3" fill="#000"/><rect x="192" y="775" width="1" height="3" fill="#000"/><rect x="256" y="775" width="1" height="3" fill="#000"/><rect x="320" y="775" width="1" height="3" fill="#000"/><rect x="384" y="775" width="1" height="3" fill="#000"/><rect x="448" y="775" width="1" height="3" fill="#000"/><rect x="512" y="775" width="1" height="3" fill="#000"/><rect x="576" y="775" width="1" height="3" fill="#000"/><rect x="640" y="775" width="1" height="3" fill="#000"/><rect x="704" y="775" width="1" height="3" fill="#000"/><rect x="768" y="775" width="1" height="3" fill="#000"/><rect x="832" y="775" width="1" height="3" fill="#000"/><rect x="896" y="775" width="1" height="3" fill="#000"/><rect x="960" y="775" width="1" height="3" fill="#000"/><rect x="1024" y="775" width="1" height="3" fill="#000"/><rect x="1088" y="775" width="1" height="3" fill="#000"/><rect x="1152" y="775" width="1" height="3" fill="#000"/><rect x="1216" y="775" width="1" height="3" fill="#000"/><rect x="1280" y="775" width="1" height="3" fill="#000"/><rect x="1344" y="775" width="1" height="3" fill="#000"/><rect x="1408" y="775" width="1" height="3" fill="#000"/><rect x="1472" y="775" width="1" height="3" fill="#000"/><rect x="1536" y="775" width="1" height="3" fill="#000"/><rect x="1600" y="775" width="1" height="3" fill="#000"/><g font-family="Liberation Sans, sans-serif" font-size="9.5px" fill="#000"><text x="-0.6" y="787">31 Jan 2017</text><text x="63.4" y="787">1 Feb 12:00</text><text x="127.4" y="787">2 Feb 20:00</text><text x="191.4" y="787">6 Feb 04:00</text><text x="255.4" y="787">7 Feb 12:00</text><text x="319.4" y="787">8 Feb 20:00</text><text x="383.4" y="787">10 Feb 04:00</text><text x="447.4" y="787">13 Feb 12:00</text><text x="511.4" y="787">14 Feb 20:00</text><text x="575.4" y="787">16 Feb 04:00</text><text x="639.4" y="787">17 Feb 12:00</text><text x="703.4" y="787">20 Feb 20:00</text><text x="767.4" y="787">22 Feb 04:00</text><text x="831.4" y="787">23 Feb 12:00</text><text x="895.4" y="787">24 Feb 20:00</text><text x="959.4" y="787">28 Feb 04:00</text><text x="1023.4" y="787">1 Mar 12:00</text><text x="1087.4" y="787">2 Mar 20:00</text><text x="1151.4" y="787">6 Mar 04:00</text><text x="1215.4" y="787">7 Mar 12:00</text><text x="1279.4" y="787">8 Mar 20:00</text><text x="1343.4" y="787">10 Mar 04:00</text><text x="1407.4" y="787">13 Mar 12:00</text><text x="1471.4" y="787">14 Mar 20:00</text><text x="1535.4" y="787">16 Mar 04:00</text><text x="1599.4" y="787">17 Mar 12:00</text></g><path d="M3,6 L10,6 L6.5,10 Z" fill="#000"/><text x="15" y="11" font-family="Liberation Sans, sans-serif" font-size="9.6px" fill="#000" textLength="201.5" lengthAdjust="spacingAndGlyphs">GBPUSD,H4&#160;&#160;1.23862 1.23907 1.23820 1.23863</text><text x="4" y="649" font-family="Liberation Sans, sans-serif" font-size="9.6px" fill="#000" textLength="122" lengthAdjust="spacingAndGlyphs">Stoch(5,3,3) 86.2288 81.3145</text><rect x="9" y="506" width="72" height="1" fill="#b02020"/><rect x="9" y="548" width="72" height="1" fill="#1c1c96"/><rect x="9" y="590" width="72" height="1" fill="#30c030"/><g font-family="Liberation Sans, sans-serif" font-size="22.5px" fill="#dd0000"><text x="92.5" y="519" textLength="121.5" lengthAdjust="spacingAndGlyphs">50 DAY SMA</text><text x="93.5" y="560" textLength="133" lengthAdjust="spacingAndGlyphs">100 DAY SMA</text><text x="92.8" y="603" textLength="133.5" lengthAdjust="spacingAndGlyphs">200 DAY SMA</text></g></svg></body></html>
